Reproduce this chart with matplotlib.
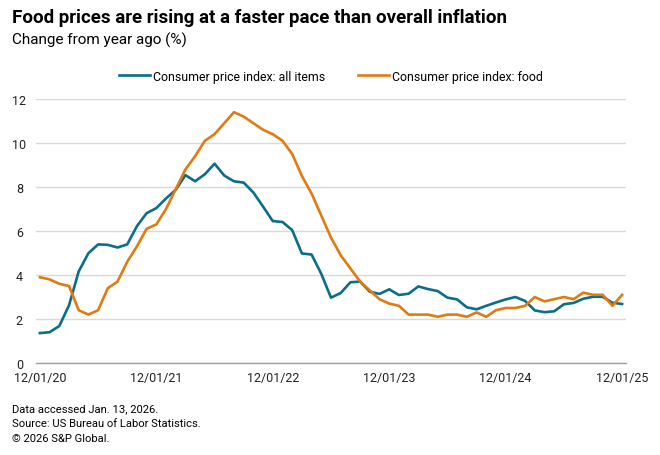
import matplotlib
matplotlib.use("Agg")
import matplotlib.pyplot as plt
from matplotlib import font_manager

# Monthly data, 12/01/20 .. 12/01/25 (61 months), YoY % change
months = list(range(61))
cpi_all = [1.36, 1.40, 1.68, 2.62, 4.16, 4.99, 5.39, 5.37, 5.25, 5.39, 6.22, 6.81,
           7.04, 7.48, 7.87, 8.54, 8.26, 8.58, 9.06, 8.52, 8.26, 8.20, 7.75, 7.11,
           6.45, 6.41, 6.04, 4.98, 4.93, 4.05, 2.97, 3.18, 3.67, 3.70, 3.24, 3.14,
           3.35, 3.09, 3.15, 3.48, 3.36, 3.27, 2.97, 2.89, 2.53, 2.44, 2.60, 2.75,
           2.89, 3.00, 2.82, 2.39, 2.31, 2.35, 2.67, 2.73, 2.92, 3.01, 3.01, 2.74,
           2.68]
cpi_food = [3.9, 3.8, 3.6, 3.5, 2.4, 2.2, 2.4, 3.4, 3.7, 4.6, 5.3, 6.1,
            6.3, 7.0, 7.9, 8.8, 9.4, 10.1, 10.4, 10.9, 11.4, 11.2, 10.9, 10.6,
            10.4, 10.1, 9.5, 8.5, 7.7, 6.7, 5.7, 4.9, 4.3, 3.7, 3.3, 2.9,
            2.7, 2.6, 2.2, 2.2, 2.2, 2.1, 2.2, 2.2, 2.1, 2.3, 2.1, 2.4,
            2.5, 2.5, 2.6, 3.0, 2.8, 2.9, 3.0, 2.9, 3.2, 3.1, 3.1, 2.6,
            3.1]
xtick_pos = [0, 12, 24, 36, 48, 60]
xtick_labels = ["12/01/20", "12/01/21", "12/01/22", "12/01/23", "12/01/24", "12/01/25"]
yticks = [0, 2, 4, 6, 8, 10, 12]

names = {f.name for f in font_manager.fontManager.ttflist}
font = "Liberation Sans Narrow" if "Liberation Sans Narrow" in names else "Roboto"
plt.rcParams["font.family"] = [font, "DejaVu Sans"]

blue = "#0b6e88"
orange = "#e07b10"

fig = plt.figure(figsize=(6.6, 4.56), dpi=100)
ax = fig.add_axes([36 / 660, 1 - 364 / 456, 590 / 660, 264 / 456])

ax.plot(months, cpi_all, color=blue, lw=1.9, label="Consumer price index: all items", solid_joinstyle="round")
ax.plot(months, cpi_food, color=orange, lw=1.9, label="Consumer price index: food", solid_joinstyle="round")

ax.set_xlim(-0.4, 60.4)
ax.set_ylim(0, 12)
ax.set_yticks(yticks)
ax.set_xticks(xtick_pos)
ax.set_xticklabels(xtick_labels)
ax.grid(axis="y", color="#d9d9d9", lw=1.0)
ax.set_axisbelow(True)
for s in ["top", "right", "left"]:
    ax.spines[s].set_visible(False)
ax.spines["bottom"].set_color("#a0a0a0")
ax.spines["bottom"].set_linewidth(1.0)
ax.tick_params(axis="both", length=0, labelsize=9, colors="#222222")
ax.tick_params(axis="x", pad=6)
for lab in ax.get_yticklabels():
    lab.set_horizontalalignment("center")
ax.tick_params(axis="y", pad=12)

ax.legend(loc="lower center", bbox_to_anchor=(0.5, 1.02), ncol=2, frameon=False,
          fontsize=8.9, handlelength=2.5, handletextpad=0.3, columnspacing=2.6)

fig.text(12 / 660, 1 - 18 / 456, "Food prices are rising at a faster pace than overall inflation",
         fontsize=13.5, fontweight="bold", va="center", ha="left")
fig.text(12 / 660, 1 - 40 / 456, "Change from year ago (%)", fontsize=11, va="center", ha="left")

footer = ["Data accessed Jan. 13, 2026.", "Source: US Bureau of Labor Statistics.", "\u00a9 2026 S&P Global."]
for i, line in enumerate(footer):
    fig.text(12 / 660, 1 - (409 + 15 * i) / 456, line, fontsize=8.1, va="center", ha="left")

fig.savefig("out.png", dpi=100)
